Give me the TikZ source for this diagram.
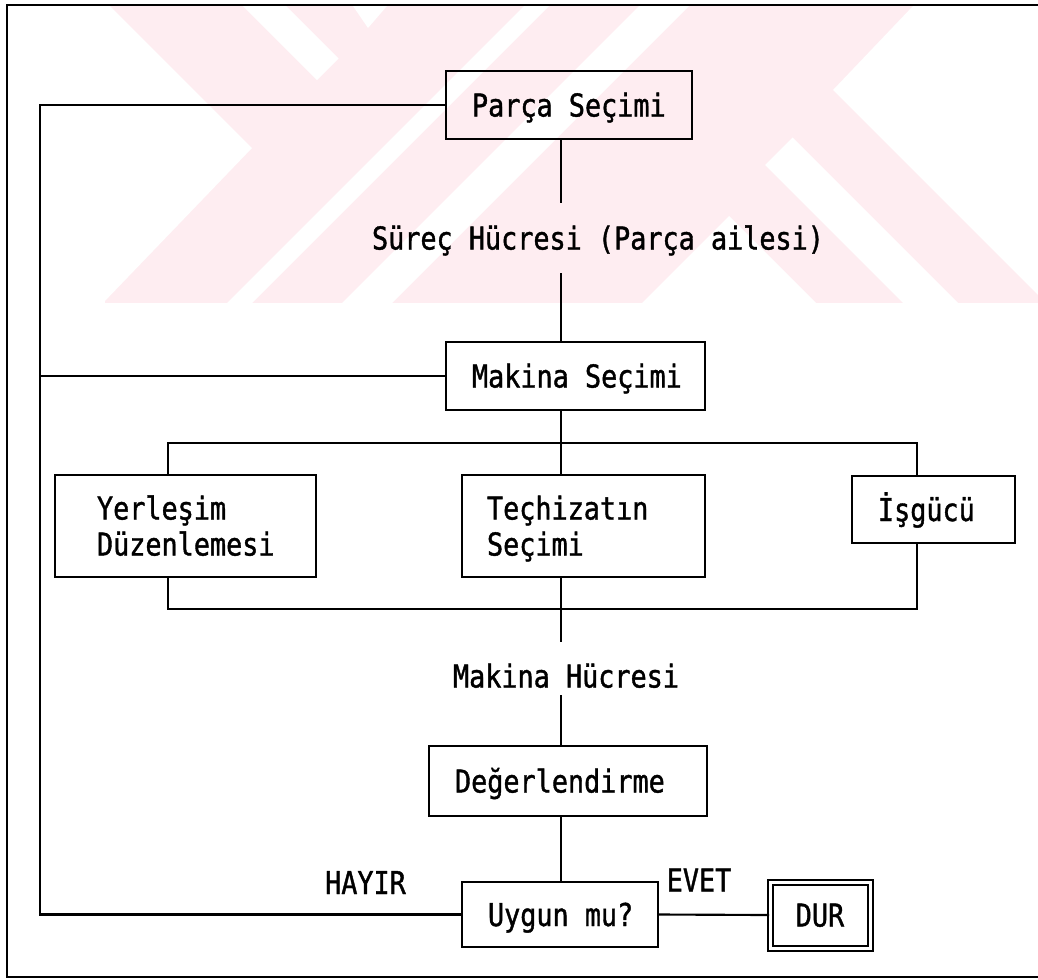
\documentclass[tikz,border=0pt]{standalone}
\usepackage{fontspec}
\newfontfamily\reffont[FakeStretch=0.852,FakeBold=1.2]{DejaVu Sans Mono}
\definecolor{wm}{RGB}{254,237,241}
\newcommand{\lefttext}[2]{\makebox[#1][l]{#2}}
\begin{document}
\begin{tikzpicture}[x=0.75pt,y=-0.75pt,line width=1.6pt,
  every node/.style={font=\reffont\fontsize{23.6pt}{27pt}\selectfont},
  box/.style={draw,line width=1.8pt,inner sep=0pt,text height=17.25pt,text depth=0pt},
  lbox/.style={box,inner xsep=19.5pt},
  lbl/.style={inner sep=0pt,text height=17.25pt,text depth=0pt},
  wmw/.style={fill=white}]
\useasboundingbox (0,0) rectangle (1038,979);
% watermark
\fill[wm] (105,6) rectangle (1038,303);
\fill[wmw] (0,6) -- (110,6) -- (252,148) -- (103,303) -- (0,303) -- cycle;
\fill[wmw] (243,6) -- (286,6) -- (338.5,58.5) -- (317,80) -- cycle;
\fill[wmw] (353,6) -- (387,6) -- (368,28) -- cycle;
\fill[wmw] (524,6) -- (549,6) -- (252,303) -- (227,303) -- cycle;
\fill[wmw] (639,6) -- (689,6) -- (392,303) -- (342,303) -- cycle;
\fill[wmw] (729,216) -- (816,303) -- (642,303) -- cycle;
\fill[wmw] (765,165) -- (792.5,137.5) -- (958,303) -- (903,303) -- cycle;
\fill[wmw] (913,6) -- (1038,6) -- (1038,295) -- (833,90) -- cycle;
% frame
\draw[line width=2pt] (1038,5) -- (7,5) -- (7,977) -- (1038,977);
% coordinates
\coordinate (sp) at (561,0);
\coordinate (L) at (40,0);
\coordinate (xa) at (168,0);
\coordinate (xi) at (917,0);
\coordinate (bt) at (0,443);
\coordinate (bb) at (0,609);
\coordinate (s1) at (561,203);
\coordinate (s2) at (561,273);
\coordinate (m1) at (561,642);
\coordinate (m2) at (561,695);
% nodes
\node[lbox,minimum height=51pt] (parca) at (569,105) {\lefttext{145.5pt}{Parça Seçimi}};
\node[lbl] (surec) at (598,238) {Süreç Hücresi (Parça ailesi)};
\node[lbox,minimum height=51pt] (makina) at (575.5,376) {\lefttext{155.25pt}{Makina Seçimi}};
\node[box,minimum width=195.75pt,minimum height=76.5pt,inner xsep=31.5pt,text width=132.75pt,align=left,text depth=27pt] (yerlesim) at (185.5,526) {Yerleşim\\Düzenlemesi};
\node[box,minimum width=182.25pt,minimum height=76.5pt,inner xsep=18.75pt,text width=144.75pt,align=left,text depth=27pt] (techizat) at (583.5,526) {Teçhizatın\\Seçimi};
\node[lbox,minimum height=50.25pt] (isgucu) at (933.5,509.5) {\lefttext{83.25pt}{İşgücü}};
\node[lbl] (mh) at (566,676) {Makina Hücresi};
\node[lbox,minimum height=52.5pt] (deger) at (568,781) {\lefttext{169.5pt}{Değerlendirme}};
\node[lbox,minimum height=48.75pt] (uygun) at (560,914.5) {\lefttext{108pt}{Uygun mu?}};
\node[box,line width=1.5pt,double,double distance=2.25pt,minimum width=75pt,minimum height=49.5pt] (dur) at (820,915) {DUR};
\node[lbl] (hayir) at (365.5,882.5) {HAYIR};
\node[lbl] (evet) at (699,880) {EVET};
% connectors
\draw (parca.south -| sp) -- (s1);
\draw (s2) -- (makina.north -| sp);
\draw (parca.west) -- (parca.west -| L) -- (L |- uygun.west) -- (uygun.west);
\draw (makina.west) -- (makina.west -| L);
\draw (makina.south -| sp) -- (techizat.north -| sp);
\draw (yerlesim.north -| xa) -- (xa |- bt) -- (xi |- bt) -- (isgucu.north -| xi);
\draw (yerlesim.south -| xa) -- (xa |- bb) -- (xi |- bb) -- (isgucu.south -| xi);
\draw (techizat.south -| sp) -- (m1);
\draw (m2) -- (deger.north -| sp);
\draw (deger.south -| sp) -- (uygun.north -| sp);
\draw (uygun.east) -- (dur.west);
\end{tikzpicture}
\end{document}
